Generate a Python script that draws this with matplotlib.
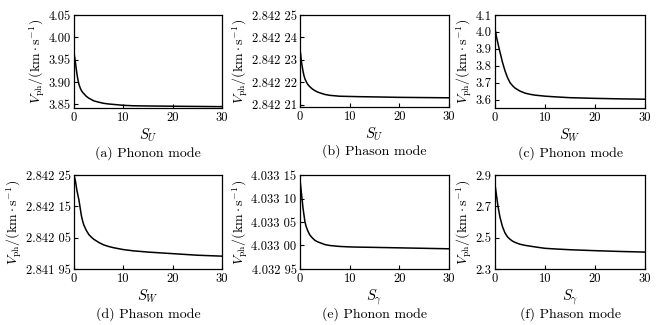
import matplotlib
matplotlib.use('Agg')
import matplotlib.pyplot as plt

plt.rcParams['font.family'] = ['cmr10', 'DejaVu Serif']
plt.rcParams['mathtext.fontset'] = 'cm'
plt.rcParams['axes.unicode_minus'] = False
plt.rcParams['axes.formatter.use_mathtext'] = True

# 各子图共用的横坐标
s = [0, 0.15, 0.3, 0.45, 0.6, 0.8, 1, 1.25, 1.5, 1.75, 2, 2.5, 3, 3.5, 4,
     5, 6, 7, 8, 10, 12, 15, 20, 25, 30]

# 相速度曲线
v_a = [3.965, 3.955, 3.943, 3.930, 3.918, 3.905, 3.895, 3.887, 3.881, 3.877,
       3.874, 3.868, 3.864, 3.861, 3.858, 3.855, 3.8525, 3.851, 3.850, 3.848,
       3.847, 3.8465, 3.846, 3.8455, 3.845]
v_b = [2.842235, 2.842232, 2.842229, 2.842227, 2.842225, 2.842223, 2.8422215,
       2.8422203, 2.8422193, 2.8422186, 2.842218, 2.842217, 2.8422163,
       2.8422157, 2.8422153, 2.8422146, 2.8422142, 2.842214, 2.8422138,
       2.8422137, 2.8422136, 2.8422135, 2.8422133, 2.8422132, 2.8422131]
v_c = [4.02, 3.995, 3.97, 3.95, 3.93, 3.905, 3.88, 3.85, 3.82, 3.795, 3.77,
       3.73, 3.70, 3.682, 3.668, 3.65, 3.638, 3.631, 3.626, 3.62, 3.616,
       3.611, 3.607, 3.604, 3.602]
v_d = [2.84225, 2.84224, 2.84223, 2.842215, 2.84220, 2.842185, 2.84217,
       2.842145, 2.84212, 2.842103, 2.84209, 2.842073, 2.84206, 2.842052,
       2.842045, 2.842035, 2.842027, 2.842022, 2.842018, 2.842012, 2.842008,
       2.842004, 2.841999, 2.841994, 2.841991]
v_e = [4.03314, 4.033125, 4.03311, 4.033095, 4.03308, 4.033065, 4.03305,
       4.03304, 4.033033, 4.033027, 4.033022, 4.033016, 4.033011, 4.033008,
       4.033006, 4.033002, 4.033, 4.032999, 4.032998, 4.032997, 4.0329965,
       4.032996, 4.032995, 4.032994, 4.032993]
v_f = [2.84, 2.805, 2.77, 2.735, 2.70, 2.665, 2.63, 2.60, 2.57, 2.55, 2.53,
       2.505, 2.49, 2.478, 2.47, 2.458, 2.451, 2.446, 2.441, 2.432, 2.428,
       2.423, 2.417, 2.412, 2.408]

# 纵轴刻度与标签
yt_a = [3.85, 3.90, 3.95, 4.00, 4.05]
yl_a = ['3.85', '3.90', '3.95', '4.00', '4.05']
yt_b = [2.84221, 2.84222, 2.84223, 2.84224, 2.84225]
yl_b = ['2.842 21', '2.842 22', '2.842 23', '2.842 24', '2.842 25']
yt_c = [3.6, 3.7, 3.8, 3.9, 4.0, 4.1]
yl_c = ['3.6', '3.7', '3.8', '3.9', '4.0', '4.1']
yt_d = [2.84195, 2.84205, 2.84215, 2.84225]
yl_d = ['2.841 95', '2.842 05', '2.842 15', '2.842 25']
yt_e = [4.03295, 4.03300, 4.03305, 4.03310, 4.03315]
yl_e = ['4.032 95', '4.033 00', '4.033 05', '4.033 10', '4.033 15']
yt_f = [2.3, 2.5, 2.7, 2.9]
yl_f = ['2.3', '2.5', '2.7', '2.9']

xlabels = [r'$S_U$', r'$S_U$', r'$S_W$', r'$S_W$', r'$S_\gamma$', r'$S_\gamma$']
captions = ['(a) Phonon mode', '(b) Phason mode', '(c) Phonon mode',
            '(d) Phason mode', '(e) Phonon mode', '(f) Phason mode']

W, H = 663, 325
fig = plt.figure(figsize=(W / 100, H / 100), dpi=100)

# 子图位置 (像素: 左, 上, 宽, 高)
boxes = [(74, 15, 148, 93), (300, 15, 149, 92), (495, 15, 150, 93),
         (74, 175, 148, 94), (300, 175, 149, 94), (495, 175, 150, 94)]
ylims = [(3.842, 4.05), (2.842209, 2.84225), (3.55, 4.1),
         (2.84195, 2.84225), (4.03295, 4.03315), (2.3, 2.9)]
curves = [v_a, v_b, v_c, v_d, v_e, v_f]
yticks = [yt_a, yt_b, yt_c, yt_d, yt_e, yt_f]
yticklabels = [yl_a, yl_b, yl_c, yl_d, yl_e, yl_f]

for i in range(6):
    l, t, w, h = boxes[i]
    ax = fig.add_axes([l / W, 1 - (t + h) / H, w / W, h / H])
    ax.plot(s, curves[i], color='black', lw=1.1)
    ax.set_xlim(0, 30)
    ax.set_ylim(*ylims[i])
    ax.set_xticks([0, 10, 20, 30])
    ax.set_xticklabels(['0', '10', '20', '30'])
    ax.set_yticks(yticks[i])
    ax.set_yticklabels(yticklabels[i])
    ax.tick_params(direction='in', length=3, width=0.8, labelsize=9, pad=2.5,
                   colors='black')
    for sp in ax.spines.values():
        sp.set_linewidth(0.9)
    ax.set_xlabel(xlabels[i], fontsize=10.5, labelpad=2)
    ax.set_ylabel(r'$V_{\rm ph}/({\rm km}\cdot{\rm s}^{-1})$', fontsize=10,
                  labelpad=1)
    ax.text(0.5, -0.48, captions[i], transform=ax.transAxes, ha='center',
            va='center', fontsize=10)

fig.savefig('out.png', dpi=100)
